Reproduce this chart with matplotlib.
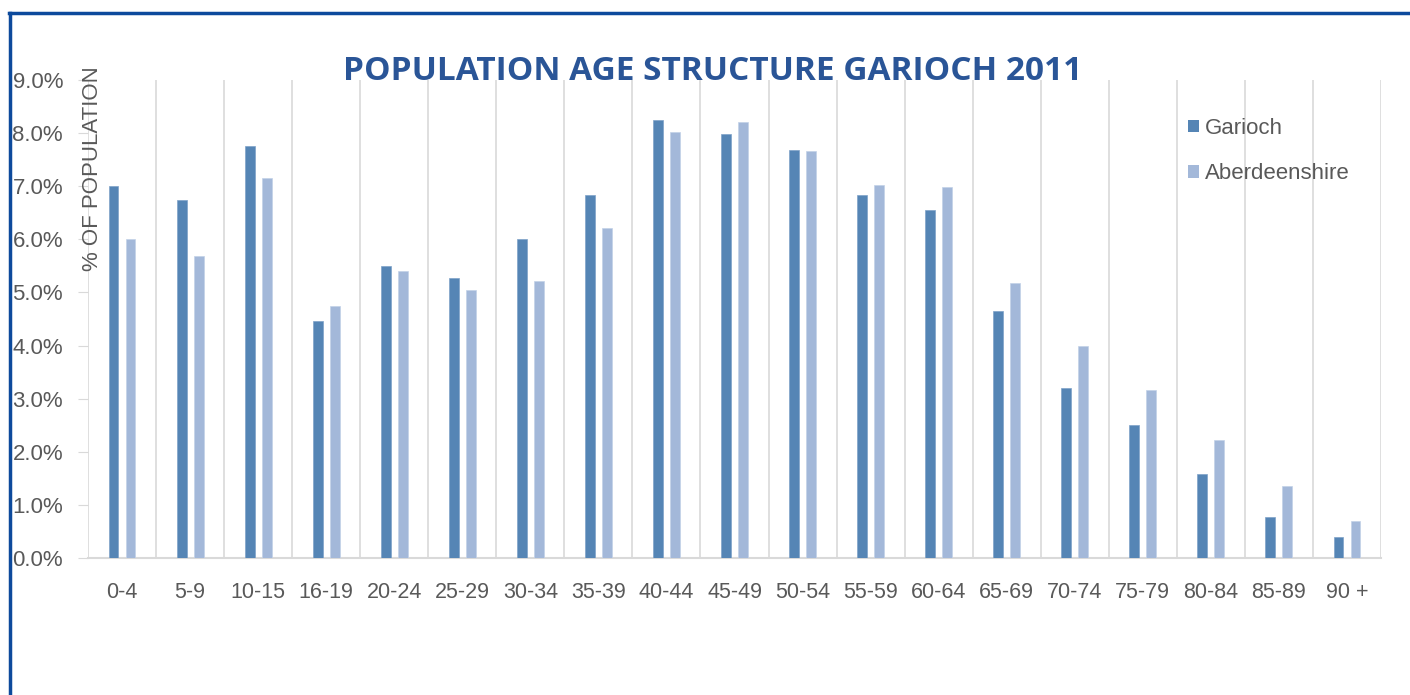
import numpy as np
import matplotlib
matplotlib.use("Agg")
import matplotlib.pyplot as plt
from matplotlib.patches import Patch
from matplotlib.lines import Line2D
from matplotlib.ticker import FuncFormatter

categories = ["0-4", "5-9", "10-15", "16-19", "20-24", "25-29", "30-34", "35-39",
              "40-44", "45-49", "50-54", "55-59", "60-64", "65-69", "70-74",
              "75-79", "80-84", "85-89", "90 +"]
garioch = [7.0, 6.74, 7.76, 4.46, 5.5, 5.27, 6.0, 6.84, 8.24, 7.98, 7.69, 6.84,
           6.55, 4.65, 3.2, 2.5, 1.58, 0.77, 0.40]
aberdeenshire = [6.0, 5.69, 7.16, 4.75, 5.4, 5.05, 5.22, 6.21, 8.02, 8.21, 7.66,
                 7.03, 6.99, 5.18, 3.99, 3.16, 2.22, 1.36, 0.70]
series_names = ["Garioch", "Aberdeenshire"]
title = "POPULATION AGE STRUCTURE GARIOCH 2011"
ylabel = "% OF POPULATION"

c_gar = "#5585b5"
c_abe = "#a3b8d9"
grey_txt = "#595959"
grid_c = "#d9d9d9"
frame_c = "#0d4a9c"

plt.rcParams['font.family'] = ['Liberation Sans', 'DejaVu Sans']

W, H = 1410, 695
fig = plt.figure(figsize=(W / 100, H / 100), dpi=100)
fig.patch.set_facecolor("white")

ax = fig.add_axes([88 / W, 1 - 558 / H, (1381 - 88) / W, (558 - 80) / H])
x = np.arange(len(categories))
bw = 0.145
off = 0.125
ax.bar(x - off, garioch, bw, color=c_gar, edgecolor="#7fa2c8", linewidth=0.5, zorder=3)
ax.bar(x + off, aberdeenshire, bw, color=c_abe, edgecolor="#c3d1e8", linewidth=0.5, zorder=3)

ax.set_xlim(-0.5, len(categories) - 0.5)
ax.set_ylim(0, 9.0)
ax.set_yticks(np.arange(0, 9.01, 1.0))
ax.yaxis.set_major_formatter(FuncFormatter(lambda v, p: f"{v:.1f}%"))
ax.set_xticks(x)
ax.set_xticklabels(categories)
ax.set_xticks(np.arange(-0.5, len(categories)), minor=True)
ax.grid(which="minor", axis="x", color=grid_c, linewidth=1.2, zorder=0)
ax.grid(False, which="major")
ax.tick_params(axis="x", which="both", length=0, labelsize=15.5, colors=grey_txt, pad=17)
ax.tick_params(axis="y", length=7, color=grid_c, labelsize=16, labelcolor=grey_txt, pad=11)
for s in ["top", "right", "left"]:
    ax.spines[s].set_visible(False)
ax.spines["bottom"].set_color(grid_c)
ax.spines["bottom"].set_linewidth(1.5)

fig.text(92 / W, 1 - 169 / H, ylabel, rotation=90, ha="center", va="center",
         fontsize=16, color=grey_txt)

fig.text(713 / W, 1 - 71 / H, title, ha="center", va="center", fontsize=24,
         fontweight="bold", color="#2a5597", family=["Open Sans", "DejaVu Sans"])

handles = [Patch(facecolor=c_gar, edgecolor="none"), Patch(facecolor=c_abe, edgecolor="none")]
fig.legend(handles, series_names, loc="upper left", bbox_to_anchor=(1188 / W, 1 - 118 / H),
           frameon=False, fontsize=16, labelcolor=grey_txt, handlelength=0.5,
           handleheight=0.5, handletextpad=0.25, labelspacing=1.1, borderpad=0,
           borderaxespad=0)

fig.add_artist(Line2D([10 / W, 10 / W], [0, 1 - 13 / H], color=frame_c, linewidth=2.5,
                      transform=fig.transFigure))
fig.add_artist(Line2D([9 / W, 1], [1 - 13 / H, 1 - 13 / H], color=frame_c, linewidth=2.5,
                      transform=fig.transFigure))

fig.savefig("out.png", dpi=100)
